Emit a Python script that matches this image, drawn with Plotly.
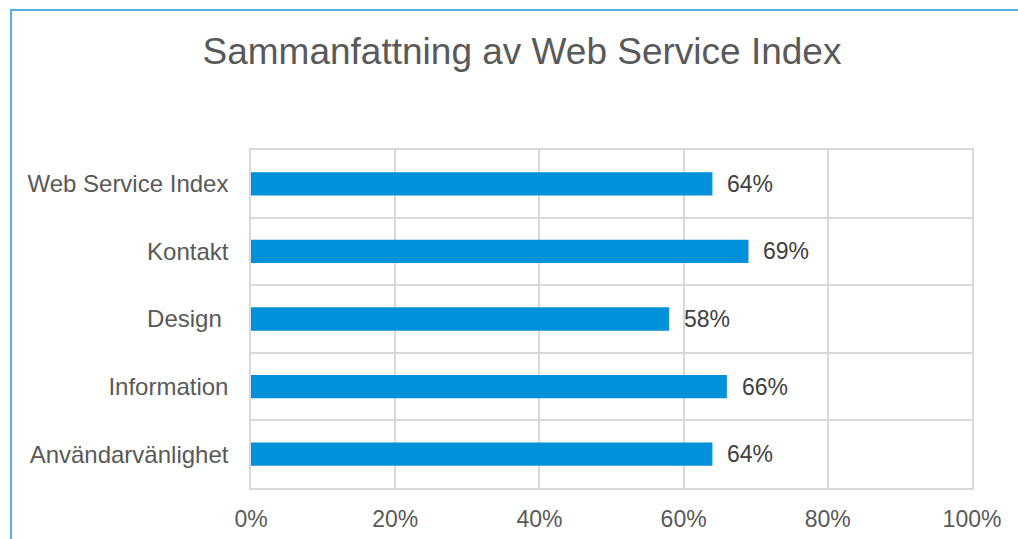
import plotly.graph_objects as go

categories = ["Web Service Index", "Kontakt", "Design\u00a0", "Information", "Användarvänlighet"]
values = [0.64, 0.69, 0.58, 0.66, 0.64]
labels = ["64%", "69%", "58%", "66%", "64%"]
x_ticks = [0, 0.2, 0.4, 0.6, 0.8, 1.0]
x_ticklabels = ["0%", "20%", "40%", "60%", "80%", "100%"]

W, H = 1018, 539
L, R, T, B = 251, 46, 150, 51
pw, ph = W - L - R, H - T - B

fig = go.Figure()
fig.add_trace(go.Bar(
    x=values, y=categories, orientation="h",
    marker=dict(color="#0091DA", line=dict(width=0)),
    width=0.345, hoverinfo="skip",
))

for c, v, t in zip(categories, values, labels):
    fig.add_annotation(x=v, y=c, text=t, showarrow=False, xanchor="left",
                       xshift=13, font=dict(family="Liberation Sans, Arial", size=23, color="#404040"))

def px_to_paper_x(px):
    return (px - L) / pw

def px_to_paper_y(py):
    return 1 - (py - T) / ph

fig.add_shape(type="rect", xref="paper", yref="paper",
              x0=px_to_paper_x(11), x1=px_to_paper_x(1040),
              y0=px_to_paper_y(560), y1=px_to_paper_y(10),
              line=dict(color="#55B2E6", width=2), fillcolor="rgba(0,0,0,0)", layer="below")

fig.update_layout(
    width=W, height=H,
    margin=dict(l=L, r=R, t=T, b=B, pad=0, autoexpand=False),
    paper_bgcolor="white", plot_bgcolor="white",
    showlegend=False,
    title=dict(text="Sammanfattning av Web Service Index",
               x=522 / W, xanchor="center", y=1 - 51 / H, yanchor="middle",
               font=dict(family="Liberation Sans, Arial", size=37, color="#595959")),
    font=dict(family="Liberation Sans, Arial", color="#595959"),
    xaxis=dict(range=[0, 1], tickvals=x_ticks, ticktext=x_ticklabels,
               showgrid=True, gridcolor="#D9D9D9", gridwidth=1.5,
               showline=True, linecolor="#D9D9D9", linewidth=1.5, mirror=True,
               zeroline=False, ticks="", ticklabelstandoff=10, automargin=False,
               tickfont=dict(size=23, color="#595959"), fixedrange=True),
    yaxis=dict(autorange="reversed", tickson="boundaries",
               showgrid=True, gridcolor="#D9D9D9", gridwidth=1.5,
               showline=True, linecolor="#D9D9D9", linewidth=1.5, mirror=True,
               ticks="", ticklabelstandoff=16, automargin=False,
               tickfont=dict(size=24, color="#595959"), fixedrange=True),
)

fig.write_html("out.html")
